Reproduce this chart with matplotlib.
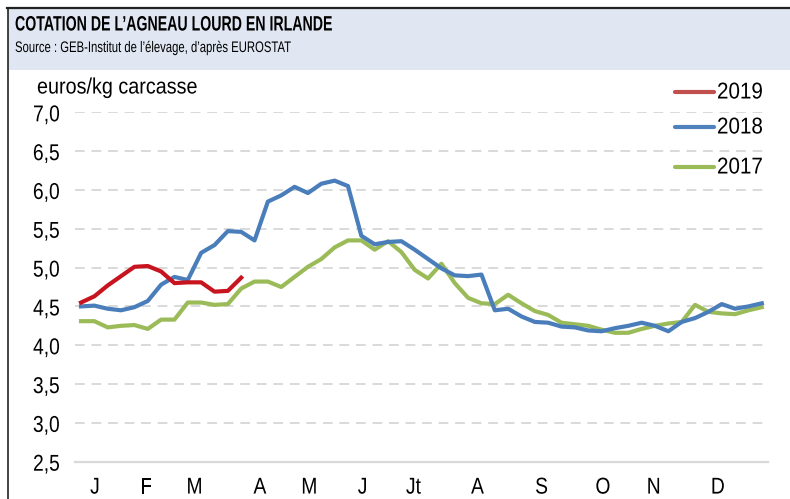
import matplotlib
matplotlib.use("Agg")
import matplotlib.pyplot as plt
from matplotlib.lines import Line2D
from matplotlib.patches import Rectangle
from matplotlib.patheffects import AbstractPathEffect
from matplotlib.transforms import Affine2D

plt.rcParams['font.family'] = ['Liberation Sans', 'DejaVu Sans']

weeks = list(range(52))
y2019 = [4.55, 4.63, 4.77, 4.89, 5.01, 5.02, 4.95, 4.80, 4.81, 4.81, 4.69, 4.70, 4.87]
y2018 = [4.50, 4.51, 4.47, 4.45, 4.49, 4.57, 4.78, 4.88, 4.84, 5.19, 5.29, 5.47, 5.46,
         5.35, 5.85, 5.93, 6.04, 5.96, 6.08, 6.12, 6.05, 5.41, 5.30, 5.33, 5.34, 5.23,
         5.11, 4.99, 4.90, 4.89, 4.91, 4.45, 4.47, 4.37, 4.30, 4.29, 4.24, 4.23, 4.19,
         4.18, 4.22, 4.25, 4.29, 4.25, 4.18, 4.30, 4.35, 4.43, 4.53, 4.47, 4.50, 4.54]
y2017 = [4.31, 4.31, 4.23, 4.25, 4.26, 4.21, 4.33, 4.33, 4.55, 4.55, 4.52, 4.53, 4.73,
         4.82, 4.82, 4.75, 4.88, 5.01, 5.11, 5.26, 5.35, 5.35, 5.23, 5.34, 5.20, 4.97,
         4.86, 5.05, 4.80, 4.61, 4.54, 4.53, 4.65, 4.54, 4.44, 4.39, 4.29, 4.27, 4.25,
         4.20, 4.16, 4.16, 4.21, 4.25, 4.28, 4.30, 4.52, 4.43, 4.41, 4.40, 4.45, 4.49]
month_labels = ['J', 'F', 'M', 'A', 'M', 'J', 'Jt', 'A', 'S', 'O', 'N', 'D']
month_pos = [1.05, 4.87, 8.5, 13.4, 17.1, 21.1, 24.9, 29.7, 34.5, 39.1, 42.9, 47.7]
yticks = [2.5, 3.0, 3.5, 4.0, 4.5, 5.0, 5.5, 6.0, 6.5, 7.0]
series_labels = ['2019', '2018', '2017']


class Condense(AbstractPathEffect):
    """Horizontally narrow the glyphs (emulates a narrow typeface)."""

    def __init__(self, sx, anchor='left'):
        super().__init__()
        self.sx = sx
        self.anchor = anchor

    def draw_path(self, renderer, gc, tpath, affine, rgbFace=None):
        ext = tpath.get_extents()
        if self.anchor == 'right':
            x0 = ext.x1
        elif self.anchor == 'center':
            x0 = 0.5 * (ext.x0 + ext.x1)
        else:
            x0 = 0.0
        t = Affine2D().translate(-x0, 0).scale(self.sx, 1).translate(x0, 0)
        renderer.draw_path(gc, tpath, t + affine, rgbFace)


W, H = 790, 499
fig = plt.figure(figsize=(W / 100, H / 100), dpi=100)

# header
fig.patches.append(Rectangle((8 / W, (H - 70) / H), 1 - 8 / W, 62 / H,
                             transform=fig.transFigure, facecolor='#e0e7f2',
                             edgecolor='none', zorder=0))
fig.lines.append(Line2D([7 / W, 1], [(H - 8) / H] * 2, transform=fig.transFigure,
                        color='#222222', lw=1.6))
fig.lines.append(Line2D([8 / W] * 2, [0, (H - 8) / H], transform=fig.transFigure,
                        color='#222222', lw=1.2))
fig.text(15 / W, (H - 25) / H, "COTATION DE L\u2019AGNEAU LOURD EN IRLANDE",
         fontsize=15, fontweight='bold', va='center', ha='left', color='black',
         path_effects=[Condense(0.68)])
fig.text(15 / W, (H - 48) / H, "Source : GEB-Institut de l\u2019\u00e9levage, d\u2019apr\u00e8s EUROSTAT",
         fontsize=11, va='center', ha='left', color='black',
         path_effects=[Condense(0.74)])

ax = fig.add_axes([75 / W, (H - 461.7) / H, 690 / W, 349.4 / H])
ax.set_xlim(-0.45, 51.24)
ax.set_ylim(2.5, 7.0)
for s in ax.spines.values():
    s.set_visible(False)

for v in yticks[1:]:
    ax.axhline(v, color='#d9d9d9', lw=1.4, ls=(0, (5, 3.5)), zorder=1)
ax.axhline(2.5, color='#d9d9d9', lw=1.6, zorder=1, xmax=1.004, clip_on=False)

ax.plot(weeks, y2017, color='#9bbb59', lw=3, solid_joinstyle='round', zorder=3)
ax.plot(weeks, y2018, color='#4a7ebb', lw=3, solid_joinstyle='round', zorder=4)
ax.plot(weeks[:len(y2019)], y2019, color='#c8141e', lw=3, solid_joinstyle='round', zorder=5)

ax.set_yticks(yticks)
ax.set_yticklabels([f"{v:.1f}".replace('.', ',') for v in yticks], fontsize=16.5)
ax.set_xticks(month_pos)
ax.set_xticklabels(month_labels, fontsize=16.5)
ax.tick_params(axis='both', length=0)
ax.tick_params(axis='y', pad=11)
ax.tick_params(axis='x', pad=10)
for t in ax.get_yticklabels():
    t.set_path_effects([Condense(0.84, 'right')])
for t in ax.get_xticklabels():
    t.set_path_effects([Condense(0.84, 'center')])

fig.text(37 / W, (H - 88) / H, "euros/kg carcasse", fontsize=16, va='center', ha='left',
         path_effects=[Condense(0.89)])

# legend
leg_colors = ['#c0504d', '#4f81bd', '#9bbb59']
leg_y = [92, 127, 167]
for lab, c, yy in zip(series_labels, leg_colors, leg_y):
    fig.lines.append(Line2D([675 / W, 714 / W], [(H - yy) / H] * 2, transform=fig.transFigure,
                            color=c, lw=3, solid_capstyle='round'))
    fig.text(717 / W, (H - yy) / H, lab, fontsize=16.5, va='center', ha='left',
             path_effects=[Condense(0.9)])

fig.savefig('out.png', dpi=100)
